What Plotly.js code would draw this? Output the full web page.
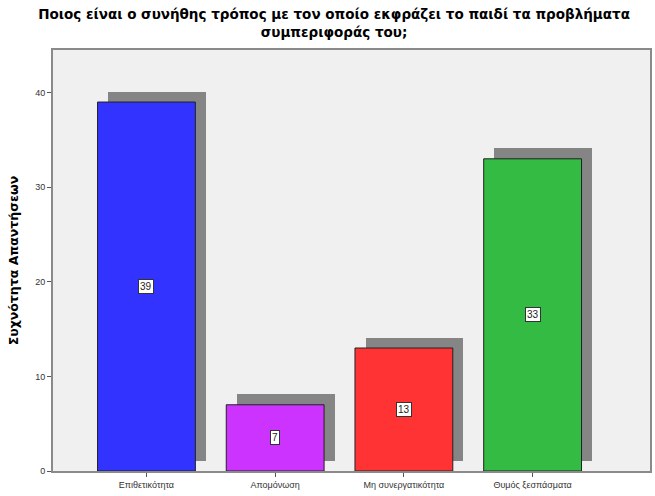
<!DOCTYPE html>
<html>
<head>
<meta charset="utf-8">
<script src="https://cdn.plot.ly/plotly-3.0.1.min.js"></script>
<style>html,body{margin:0;padding:0;background:#fff;}#chart{width:655px;height:496px;}</style>
</head>
<body>
<div id="chart"></div>
<script>
const categories = ["Επιθετικότητα", "Απομόνωση", "Μη συνεργατικότητα", "Θυμός ξεσπάσματα"];
const counts = [39, 7, 13, 33];
const barColors = ["#3333FF", "#CC33FF", "#FF3333", "#33BB44"];
const yTickVals = [0, 10, 20, 30, 40];

const idx = categories.map((c, i) => i);
const shadowDx = 0.082;   // shadow offset (category units)
const shadowDy = 1.1;     // shadow offset (count units)

const shadow = {
  type: 'bar', x: idx.map(i => i + shadowDx), y: counts, base: shadowDy,
  width: 0.76, marker: {color: '#858585', line: {width: 0}},
  hoverinfo: 'skip', showlegend: false
};
const bars = {
  type: 'bar', x: idx, y: counts, width: 0.76,
  marker: {color: barColors, line: {color: '#222', width: 1}},
  showlegend: false
};

const annotations = counts.map((v, i) => ({
  x: i, y: v / 2, xref: 'x', yref: 'y', text: String(v), showarrow: false,
  font: {family: 'Liberation Sans, Arial, sans-serif', size: 10, color: '#222'},
  bgcolor: '#ffffff', bordercolor: '#333', borderwidth: 1, borderpad: 1
}));

const layout = {
  width: 655, height: 496,
  margin: {l: 53, r: 5, t: 50, b: 25},
  paper_bgcolor: '#ffffff', plot_bgcolor: '#F0F0F0',
  barmode: 'overlay', bargap: 0,
  title: {
    text: '<b>Ποιος είναι ο συνήθης τρόπος με τον οποίο εκφράζει το παιδί τα προβλήματα<br>συμπεριφοράς του;</b>',
    font: {family: 'DejaVu Sans, sans-serif', size: 13.5, color: '#000'},
    x: 0.51, xanchor: 'center', yref: 'container', y: 0.961, yanchor: 'middle'
  },
  xaxis: {
    range: [-0.726, 3.912], tickvals: idx, ticktext: categories,
    showgrid: false, zeroline: false, showline: true, linecolor: '#8a8a8a', linewidth: 2, mirror: true,
    ticks: 'outside', ticklen: 4, tickcolor: '#555',
    tickfont: {family: 'Liberation Sans, Arial, sans-serif', size: 9, color: '#333'}
  },
  yaxis: {
    range: [0, 44.5], tickvals: yTickVals,
    showgrid: false, zeroline: false, showline: true, linecolor: '#8a8a8a', linewidth: 2, mirror: true,
    ticks: 'outside', ticklen: 4, tickcolor: '#555',
    tickfont: {family: 'Liberation Sans, Arial, sans-serif', size: 9, color: '#333'},
    title: {text: '<b>Συχνότητα Απαντήσεων</b>', standoff: 14,
      font: {family: 'DejaVu Sans, sans-serif', size: 12.5, color: '#000'}}
  },
  annotations: annotations
};

Plotly.newPlot('chart', [shadow, bars], layout, {displayModeBar: false, staticPlot: true});
</script>
</body>
</html>
